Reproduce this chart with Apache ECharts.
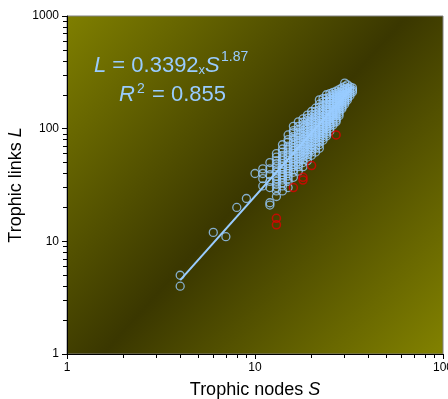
<!DOCTYPE html>
<html>
<head>
<meta charset="utf-8">
<script src="https://cdn.jsdelivr.net/npm/echarts@6/dist/echarts.min.js"></script>
<style>
html, body { margin: 0; padding: 0; background: #fff; }
#chart { width: 448px; height: 399px; }
</style>
</head>
<body>
<div id="chart"></div>
<script>
// food webs: trophic nodes S vs trophic links L
var webPoints = [
    [4, 5], [4, 4], [6, 12], [7, 11], [8, 20], [9, 24], [10, 40],
    [11, 44], [11, 40], [11, 36], [11, 31],
    [12, 50], [12, 44], [12, 39], [12, 34], [12, 30], [12, 22], [12, 21],
    [13, 60], [13, 56], [13, 52], [13, 49], [13, 46], [13, 43], [13, 41], [13, 38], [13, 36], [13, 34], [13, 32], [13, 30], [13, 28], [13, 25],
    [14, 72], [14, 66], [14, 62], [14, 58], [14, 55], [14, 52], [14, 49], [14, 46], [14, 44], [14, 41], [14, 39], [14, 37], [14, 35], [14, 33], [14, 31], [14, 28],
    [15, 88], [15, 80], [15, 76], [15, 70], [15, 66], [15, 62], [15, 58], [15, 55], [15, 52], [15, 49], [15, 47], [15, 44], [15, 42], [15, 40], [15, 38], [15, 36], [15, 34], [15, 30],
    [16, 105], [16, 96], [16, 92], [16, 85], [16, 80], [16, 75], [16, 71], [16, 67], [16, 64], [16, 60], [16, 57], [16, 54], [16, 51], [16, 48], [16, 46], [16, 43], [16, 41], [16, 37],
    [17, 115], [17, 105], [17, 98], [17, 92], [17, 88], [17, 83], [17, 78], [17, 74], [17, 70], [17, 66], [17, 63], [17, 60], [17, 57], [17, 54], [17, 51], [17, 48], [17, 46], [17, 42],
    [18, 122], [18, 114], [18, 108], [18, 102], [18, 96], [18, 91], [18, 86], [18, 81], [18, 77], [18, 73], [18, 70], [18, 66], [18, 63], [18, 59], [18, 56], [18, 53], [18, 50], [18, 46],
    [19, 132], [19, 124], [19, 118], [19, 110], [19, 104], [19, 99], [19, 94], [19, 89], [19, 85], [19, 81], [19, 77], [19, 73], [19, 69], [19, 65], [19, 62], [19, 59], [19, 56], [19, 52],
    [20, 142], [20, 133], [20, 126], [20, 118], [20, 112], [20, 106], [20, 101], [20, 96], [20, 92], [20, 88], [20, 84], [20, 80], [20, 76], [20, 72], [20, 68], [20, 65], [20, 62], [20, 58],
    [21, 152], [21, 142], [21, 134], [21, 127], [21, 120], [21, 114], [21, 109], [21, 104], [21, 99], [21, 94], [21, 90], [21, 86], [21, 82], [21, 78], [21, 74], [21, 70], [21, 67], [21, 62],
    [22, 180], [22, 165], [22, 155], [22, 146], [22, 138], [22, 130], [22, 124], [22, 118], [22, 112], [22, 107], [22, 102], [22, 97], [22, 92], [22, 88], [22, 84], [22, 80], [22, 76], [22, 72], [22, 67],
    [23, 185], [23, 172], [23, 160], [23, 150], [23, 142], [23, 135], [23, 128], [23, 122], [23, 116], [23, 111], [23, 106], [23, 101], [23, 96], [23, 91], [23, 87], [23, 83], [23, 79],
    [24, 200], [24, 186], [24, 175], [24, 165], [24, 155], [24, 147], [24, 140], [24, 133], [24, 126], [24, 120], [24, 114], [24, 109], [24, 104], [24, 99], [24, 94], [24, 90], [24, 86],
    [25, 205], [25, 192], [25, 182], [25, 172], [25, 163], [25, 155], [25, 148], [25, 141], [25, 134], [25, 128], [25, 122], [25, 116], [25, 111], [25, 106], [25, 101], [25, 95],
    [26, 210], [26, 200], [26, 190], [26, 180], [26, 172], [26, 164], [26, 156], [26, 149], [26, 142], [26, 136], [26, 130], [26, 124], [26, 118], [26, 113], [26, 108],
    [27, 215], [27, 205], [27, 196], [27, 187], [27, 178], [27, 170], [27, 162], [27, 155], [27, 148], [27, 142], [27, 136], [27, 130], [27, 124], [27, 119], [27, 115],
    [28, 222], [28, 210], [28, 200], [28, 192], [28, 184], [28, 176], [28, 168], [28, 161], [28, 154], [28, 148], [28, 142], [28, 136], [28, 130],
    [29, 230], [29, 218], [29, 208], [29, 199], [29, 190], [29, 182], [29, 175], [29, 167], [29, 160], [29, 155], [29, 150],
    [30, 254], [30, 236], [30, 225], [30, 212], [30, 200], [30, 192], [30, 185], [30, 178], [30, 172], [30, 165],
    [31, 245], [31, 228], [31, 215], [31, 205], [31, 195], [31, 187], [31, 180],
    [32, 235], [32, 225], [32, 215], [32, 205], [32, 196],
    [33, 230], [33, 220], [33, 212]
];
var outlierPoints = [[13, 16], [13, 14], [16, 30], [18, 37], [18, 35], [20, 47], [27, 88]];

var xMinorTicks = [2, 3, 4, 5, 6, 7, 8, 9, 20, 30, 40, 50, 60, 70, 80, 90];
var yMinorTicks = [2, 3, 4, 5, 6, 7, 8, 9, 20, 30, 40, 50, 60, 70, 80, 90, 200, 300, 400, 500, 600, 700, 800, 900];

// power-law fit L = a * S^b
var fitA = 0.3392, fitB = 1.87, fitR2 = 0.855;
var fitRange = [4, 33];

var fitLine = fitRange.map(function (s) {
    return [s, fitA * Math.pow(s, fitB)];
});

var blue = '#99ccff';
var fontFamily = '"Liberation Sans", Arial, sans-serif';

function logAxis(pos, min, max, extra) {
    var ax = {
        type: 'log',
        logBase: 10,
        position: pos,
        min: min,
        max: max,
        gridIndex: 0,
        splitLine: { show: false },
        axisLine: { show: true, lineStyle: { color: '#000', width: 1 } },
        axisTick: { show: true, inside: false, length: 5, lineStyle: { color: '#000' } },
        axisLabel: {
            color: '#000', fontSize: 12, fontFamily: fontFamily,
            formatter: function (v) { return String(v); }
        }
    };
    for (var k in extra) ax[k] = extra[k];
    return ax;
}

// tick-only axis, laid over the log axis in decade units
function minorAxis(pos, decades, ticks) {
    return {
        type: 'value',
        position: pos,
        min: 0,
        max: decades,
        gridIndex: 0,
        splitLine: { show: false },
        axisLine: { show: false },
        axisLabel: { show: false },
        axisTick: {
            show: true, length: 4, lineStyle: { color: '#000', width: 1 },
            customValues: ticks.map(function (t) { return Math.log10(t); })
        }
    };
}

var nameStyle = {
    color: '#000', fontSize: 18, fontFamily: fontFamily,
    rich: { i: { fontStyle: 'italic', fontSize: 18, fontFamily: fontFamily, color: '#000' } }
};

var eqRich = {
    i: { fontStyle: 'italic', fontSize: 22, fontFamily: fontFamily, fill: blue, lineHeight: 26, verticalAlign: 'bottom' },
    n: { fontSize: 22, fontFamily: fontFamily, fill: blue, lineHeight: 26, verticalAlign: 'bottom' },
    s: { fontSize: 13, fontFamily: fontFamily, fill: blue, lineHeight: 24, verticalAlign: 'bottom' }
};

var option = {
    animation: false,
    backgroundColor: '#fff',
    grid: {
        left: 67, right: 5, top: 16, bottom: 45,
        outerBoundsMode: 'none',
        containLabel: false,
        show: true,
        borderColor: '#808080',
        borderWidth: 1,
        backgroundColor: {
            type: 'linear', x: 0, y: 0, x2: 1, y2: 1,
            colorStops: [
                { offset: 0, color: '#7f7f00' },
                { offset: 0.5, color: '#3a3700' },
                { offset: 1, color: '#828200' }
            ]
        }
    },
    xAxis: [
        logAxis('bottom', 1, 100, {
            name: 'Trophic nodes {i|S}',
            nameLocation: 'middle',
            nameGap: 27,
            nameMoveOverlap: false,
            nameTextStyle: nameStyle
        }),
        minorAxis('bottom', 2, xMinorTicks)
    ],
    yAxis: [
        logAxis('left', 1, 1000, {
            name: 'Trophic links {i|L}',
            nameLocation: 'middle',
            nameGap: 42,
            nameMoveOverlap: false,
            nameTextStyle: nameStyle
        }),
        minorAxis('left', 3, yMinorTicks)
    ],
    series: [
        {
            type: 'scatter',
            data: webPoints,
            symbol: 'circle',
            symbolSize: 8,
            itemStyle: { color: 'rgba(0,0,0,0)', borderColor: blue, borderWidth: 1.3 },
            z: 2
        },
        {
            type: 'line',
            data: fitLine,
            showSymbol: false,
            lineStyle: { color: blue, width: 2 },
            z: 3
        },
        {
            type: 'scatter',
            data: outlierPoints,
            symbol: 'circle',
            symbolSize: 8,
            itemStyle: { color: 'rgba(0,0,0,0)', borderColor: '#e00000', borderWidth: 1.5 },
            z: 4
        }
    ],
    graphic: [
        {
            type: 'text', left: 94, top: 55,
            style: { text: '{i|L}{n| = ' + fitA + '}{s|x}{i|S}', rich: eqRich }
        },
        {
            type: 'text', left: 221, top: 50,
            style: { text: String(fitB), fill: blue, fontSize: 14, fontFamily: fontFamily }
        },
        {
            type: 'text', left: 119, top: 84,
            style: { text: '{i|R}', rich: eqRich }
        },
        {
            type: 'text', left: 137, top: 82,
            style: { text: '2', fill: blue, fontSize: 14, fontFamily: fontFamily }
        },
        {
            type: 'text', left: 152, top: 84,
            style: { text: '{n|= ' + fitR2 + '}', rich: eqRich }
        }
    ]
};

var myChart = echarts.init(document.getElementById('chart'));
myChart.setOption(option);
</script>
</body>
</html>
